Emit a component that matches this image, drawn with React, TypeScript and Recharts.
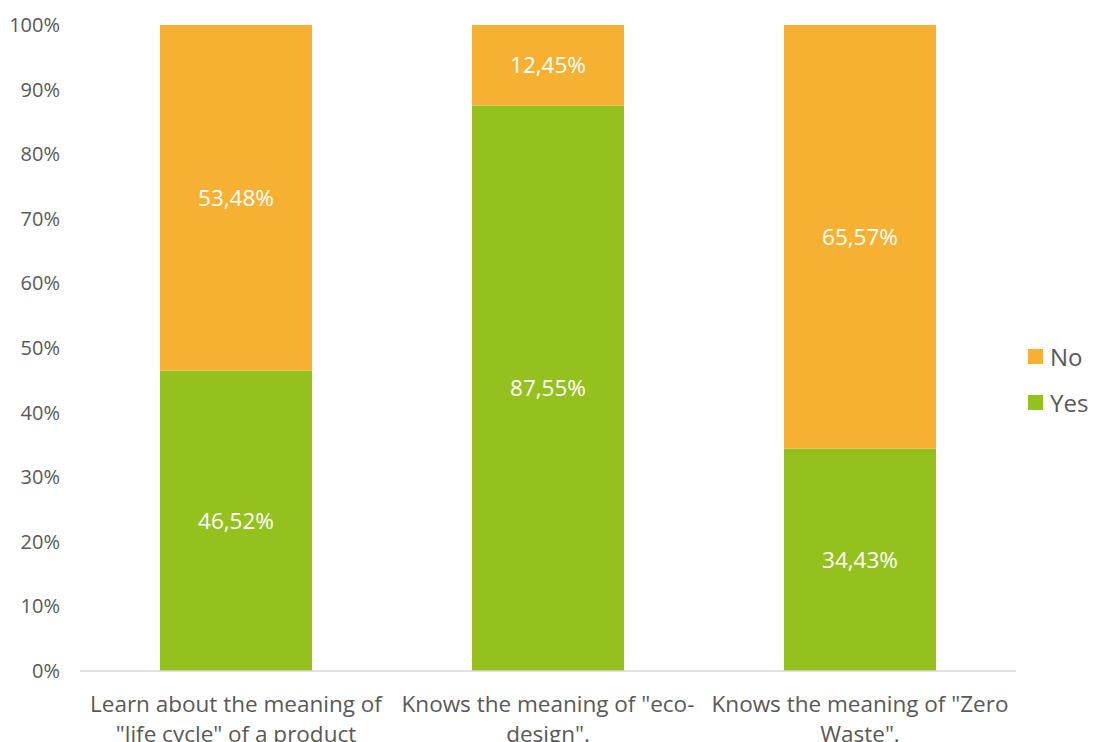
import { Bar, BarChart, LabelList, XAxis, YAxis } from 'recharts'

const categories = [
  ['Learn about the meaning of', '"life cycle" of a product'],
  ['Knows the meaning of "eco-', 'design".'],
  ['Knows the meaning of "Zero', 'Waste".'],
]
const yesValues = [46.52, 87.55, 34.43]
const noValues = [53.48, 12.45, 65.57]
const yTicks = [0, 10, 20, 30, 40, 50, 60, 70, 80, 90, 100]

const data = categories.map((lines, i) => ({
  name: String(i),
  Yes: yesValues[i],
  No: noValues[i],
}))

const FONT = '"Open Sans", "Noto Sans", sans-serif'
const GREEN = '#95C11F'
const ORANGE = '#F6B132'
const TEXT = '#595959'

const fmt = (v: any) => `${Number(v).toFixed(2).replace('.', ',')}%`

const XTick = ({ x, y, payload }: any) => {
  const lines = categories[Number(payload.value)]
  return (
    <text x={x} y={y} textAnchor="middle" fill={TEXT} fontSize={22.5} fontFamily={FONT}>
      {lines.map((l, i) => (
        <tspan key={i} x={x} dy={i === 0 ? 33 : 30}>
          {l}
        </tspan>
      ))}
    </text>
  )
}

const YTick = ({ x, y, payload }: any) => (
  <text x={x} y={y} dy={7} textAnchor="end" fill={TEXT} fontSize={20} fontFamily={FONT}>
    {`${payload.value}%`}
  </text>
)

const legendItems = [
  { label: 'No', color: ORANGE, top: 340 },
  { label: 'Yes', color: GREEN, top: 386 },
]

export default function App() {
  return (
    <div style={{ position: 'absolute', left: 0, top: 0, width: 1095, height: 742, overflow: 'hidden', background: '#fff' }}>
      <BarChart
        width={1095}
        height={742}
        data={data}
        margin={{ top: 25, right: 79, left: 0, bottom: 0 }}
        barCategoryGap={80}
      >
        <XAxis
          dataKey="name"
          height={71}
          tick={<XTick />}
          tickLine={false}
          axisLine={{ stroke: '#D9D9D9', strokeWidth: 1.5 }}
          interval={0}
        />
        <YAxis
          width={80}
          domain={[0, 100]}
          ticks={yTicks}
          tick={<YTick />}
          tickLine={false}
          axisLine={false}
          tickSize={0}
          tickMargin={20}
        />
        <Bar dataKey="Yes" stackId="a" fill={GREEN} isAnimationActive={false}>
          <LabelList dataKey="Yes" position="center" formatter={fmt} fill="#FFFFFF" fontSize={22.5} fontFamily={FONT} />
        </Bar>
        <Bar dataKey="No" stackId="a" fill={ORANGE} isAnimationActive={false}>
          <LabelList dataKey="No" position="center" formatter={fmt} fill="#FFFFFF" fontSize={22.5} fontFamily={FONT} />
        </Bar>
      </BarChart>
      {legendItems.map((it) => (
        <div
          key={it.label}
          style={{ position: 'absolute', left: 1028, top: it.top, display: 'flex', alignItems: 'center', fontFamily: FONT, fontSize: 24, color: TEXT }}
        >
          <span style={{ width: 15, height: 15, background: it.color, marginRight: 7, display: 'inline-block' }} />
          {it.label}
        </div>
      ))}
    </div>
  )
}
